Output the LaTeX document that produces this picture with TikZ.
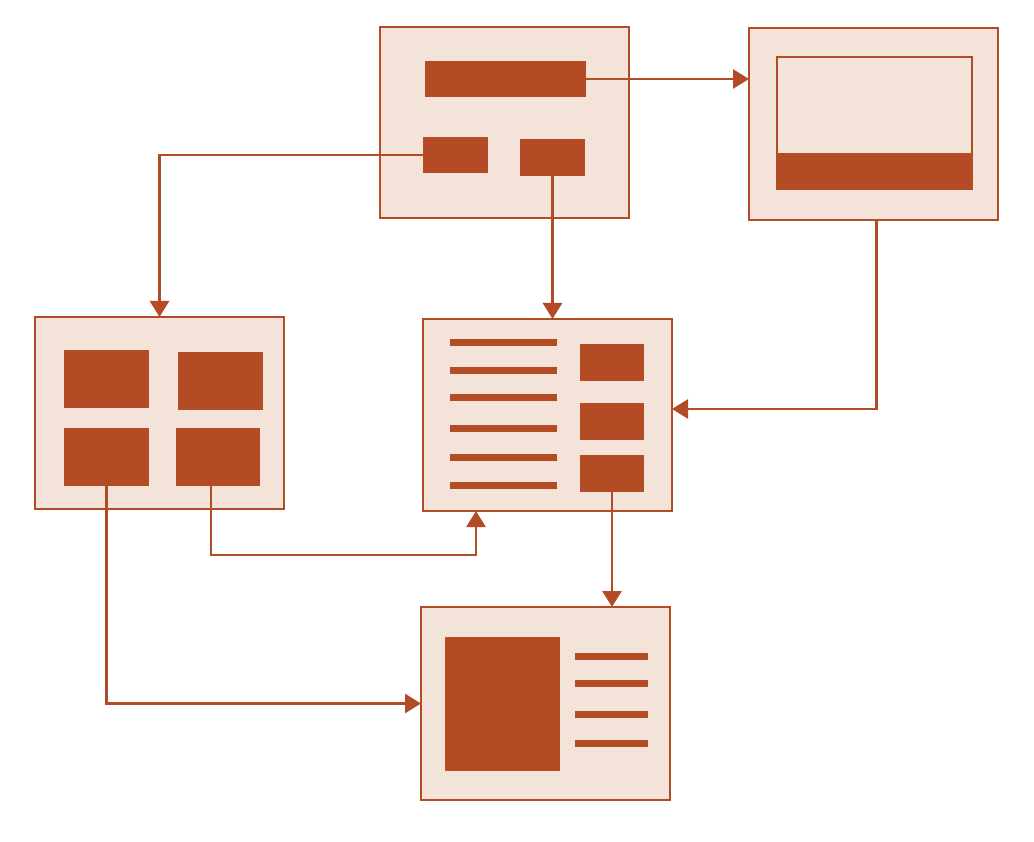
\documentclass[tikz,border=0pt]{standalone}
\usepackage{tikz}
\usetikzlibrary{arrows.meta, positioning}

\definecolor{rust}{RGB}{179,75,36}
\definecolor{peach}{RGB}{243,227,216}

\tikzset{
  page/.style={draw=rust, fill=peach, line width=2.8pt, inner sep=0pt, outer sep=0pt},
  block/.style={fill=rust, inner sep=0pt, outer sep=0pt},
  textline/.style={fill=rust, inner sep=0pt, outer sep=0pt, minimum height=7pt},
  wire/.style={draw=rust, line width=2.8pt, -{Triangle[length=16pt,width=19pt]}}
}

\begin{document}
\begin{tikzpicture}[x=1pt, y=-1pt]
	\useasboundingbox (0,0) rectangle (1034,842);
	% top page
	\node[page, minimum width=249pt, minimum height=191pt] (home) at (504.5,122.5) {};
		\node[block, minimum width=161pt, minimum height=36pt] (bar) at (505.5,79) {};
		\node[block, minimum width=65pt, minimum height=36pt] (btnl) at (455.5,155) {};
		\node[block, minimum width=65pt, minimum height=37pt] (btnr) at (552.5,157.5) {};
	% top right page
	\node[page, minimum width=249pt, minimum height=192pt] (view) at (873.5,124) {};
		\node[draw=rust, fill=peach, line width=1.8pt, inner sep=0pt, minimum width=195pt, minimum height=98pt] (screen) at (874.5,106) {};
		\node[block, minimum width=197pt, minimum height=37pt] (banner) at (874.5,171.5) {};
	% left page
	\node[page, minimum width=249pt, minimum height=192pt] (grid) at (159.5,413) {};
		\node[block, minimum width=85pt, minimum height=58pt] (tilea) at (106.5,379) {};
		\node[block, minimum width=85pt, minimum height=58pt] (tileb) at (220.5,381) {};
		\node[block, minimum width=85pt, minimum height=58pt] (tilec) at (106.5,457) {};
		\node[block, minimum width=84pt, minimum height=58pt] (tiled) at (218,457) {};
	% middle page
	\node[page, minimum width=249pt, minimum height=192pt] (list) at (547.5,415) {};
		\foreach \y [count=\i] in {343,371,398,428,457,485}
			\node[textline, minimum width=107pt] (row\i) at (503.5,\y) {};
		\node[block, minimum width=64pt, minimum height=37pt] (carda) at (612,362.5) {};
		\node[block, minimum width=64pt, minimum height=37pt] (cardb) at (612,421.5) {};
		\node[block, minimum width=64pt, minimum height=37pt] (cardc) at (612,473.5) {};
	% bottom page
	\node[page, minimum width=249pt, minimum height=193pt] (detail) at (545.5,703.5) {};
		\node[block, minimum width=115pt, minimum height=134pt] (photo) at (502.5,704) {};
		\foreach \y [count=\i] in {656,683,714,743}
			\node[textline, minimum width=73pt] (note\i) at (611.5,\y) {};

	\coordinate (bend) at (476,555);

	\draw[wire] (bar.east) -- (bar.east -| view.west);
	\draw[wire] (btnl.west) -| (grid.north);
	\draw[wire] (btnr.south) -- (btnr.south |- list.north);
	\draw[wire] ([xshift=3pt]view.south) |- ([yshift=6pt]list.east);
	\draw[wire] ([xshift=-7pt]tiled.south) |- (bend) -- (bend |- list.south);
	\draw[wire] (tilec.south) |- (detail.west);
	\draw[wire] (cardc.south) -- (cardc.south |- detail.north);
\end{tikzpicture}
\end{document}
